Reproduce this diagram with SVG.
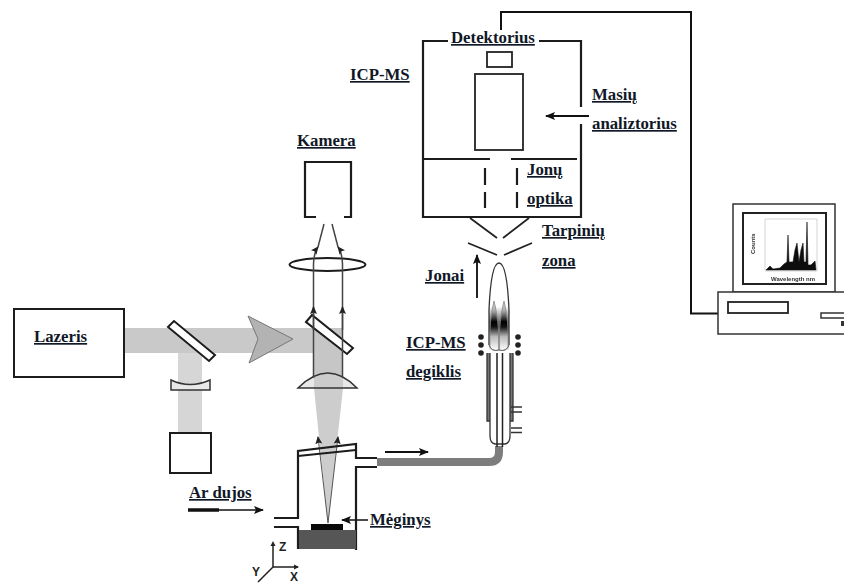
<svg xmlns="http://www.w3.org/2000/svg" width="844" height="583" viewBox="0 0 844 583">
<style>
text{font-family:"Liberation Serif","Times New Roman",serif;font-weight:bold;font-size:16.8px;fill:#101828}
.u{text-decoration:underline;text-decoration-thickness:2px;text-underline-offset:2.5px}
.l{fill:none;stroke:#1c1c1c;stroke-width:2.2}
.t{fill:none;stroke:#555;stroke-width:1}
.w{fill:#fff;stroke:#1c1c1c;stroke-width:2}
.r{fill:none;stroke:#444;stroke-width:1.5}
text.ax{font-family:"Liberation Sans",Arial,sans-serif;font-size:12px;fill:#222}
text.c{font-family:"Liberation Sans",Arial,sans-serif;font-size:6px;fill:#333}
</style>
<defs>
<marker id="a" markerWidth="10" markerHeight="8" refX="9" refY="4" orient="auto" markerUnits="userSpaceOnUse"><path d="M0 0L10 4L0 8L2 4z" fill="#111"/></marker>
<marker id="as" markerWidth="8" markerHeight="8" refX="7" refY="4" orient="auto" markerUnits="userSpaceOnUse"><path d="M0 0.5L8 4L0 7.5L1.5 4z" fill="#222"/></marker>
<linearGradient id="fl" x1="0" y1="0" x2="0" y2="1">
<stop offset="0" stop-color="#ddd"/><stop offset=".2" stop-color="#aaa"/><stop offset=".42" stop-color="#000"/><stop offset=".52" stop-color="#111"/><stop offset=".72" stop-color="#bbb"/><stop offset="1" stop-color="#fff"/>
</linearGradient>
<linearGradient id="fo" x1="0" y1="0" x2="0" y2="1">
<stop offset="0" stop-color="#fff"/><stop offset=".5" stop-color="#fff"/><stop offset=".68" stop-color="#666"/><stop offset=".76" stop-color="#333"/><stop offset=".9" stop-color="#bbb"/><stop offset="1" stop-color="#eee"/>
</linearGradient>
<filter id="b" x="-5%" y="-5%" width="110%" height="110%"><feGaussianBlur stdDeviation="0.35"/></filter>
</defs>

<g id="beams">
<rect x="124" y="328" width="190" height="25" fill="#c9c9c9"/>
<rect x="178" y="353" width="24" height="80" fill="#d6d6d6"/>
<rect x="314" y="328" width="29" height="60" fill="#c6c6c6"/>
<path d="M314 388H343L328 525z" fill="#cdcdcd"/>
</g>

<g id="lazeris"><rect x="14" y="309" width="110" height="68" class="w"/><text x="34" y="342" class="u">Lazeris</text></g>
<g id="veidrodis-1"><path d="M168 327L174 321L215 355L209 361z" class="w"/></g>
<g id="lesis-1"><path d="M171 380Q190 389 210 380V390H171z" fill="#e8e8e8" stroke="#333" stroke-width="1.500"/></g>
<g id="deze"><rect x="170" y="433" width="41" height="40" class="w"/></g>
<g id="prizme"><path d="M248 316L293 339L249 363L258 339z" fill="#b3b3b3" stroke="#777" stroke-width="1"/></g>
<g id="veidrodis-2"><path d="M306 322L312 315L353 348L347 354z" class="w"/></g>
<g id="lesis-2"><path d="M298 388Q328 358 357 388z" fill="#d2d2d2" fill-opacity=".5" stroke="#333" stroke-width="1.500"/></g>
<g id="lesis-3"><ellipse cx="327.500" cy="264.500" rx="38" ry="6.500" fill="none" stroke="#1c1c1c" stroke-width="2"/></g>
<g id="kamera"><path d="M316 217H305V162H351V217H344" class="l"/><text x="297" y="146" class="u">Kamera</text></g>

<g id="connectors">
<path d="M313.500 378V264Q314 252 318 247" class="r" marker-end="url(#as)"/>
<path d="M318 247L324 224" class="r"/>
<path d="M342.500 378V264Q342 252 338 247" class="r" marker-end="url(#as)"/>
<path d="M338 247L332 224" class="r"/>
<path d="M313.500 330V307" class="r" marker-end="url(#as)"/>
<path d="M342.500 330V307" class="r" marker-end="url(#as)"/>
<path d="M328 523L318 437" class="t" marker-end="url(#as)"/>
<path d="M328 523L338 437" class="t" marker-end="url(#as)"/>
<path d="M377 462H489Q499 462 499 452V446" fill="none" stroke="#7d7d7d" stroke-width="8"/>
<path d="M385 452H428" stroke="#111" stroke-width="2" marker-end="url(#a)"/>
<path d="M188 510H219" stroke="#111" stroke-width="3.500"/>
<path d="M219 510H263" stroke="#111" stroke-width="1.500" marker-end="url(#a)"/>
<path d="M368 520H342" stroke="#111" stroke-width="1.500" marker-end="url(#a)"/>
<path d="M477 298V255" stroke="#222" stroke-width="2" marker-end="url(#a)"/>
<path d="M589 116H546" stroke="#111" stroke-width="2" marker-end="url(#a)"/>
<path d="M501 30V12H691V313.500H718" fill="none" stroke="#111" stroke-width="2"/>
</g>

<g id="kamera-meginiui">
<path d="M274 518H298V451L356 444V458H377M377 467H356V550M274 527H298V549" class="l"/>
<path d="M298 456L356 450" class="l" stroke-width="1.500"/>
<rect x="299" y="530" width="57" height="19" fill="#565656"/>
<rect x="311" y="524" width="32" height="6" fill="#0a0a0a"/>
</g>
<g id="meginys"><text x="370" y="525" class="u">Mėginys</text></g>
<g id="ar-dujos"><text x="189" y="498" class="u">Ar dujos</text></g>

<g id="asys">
<path d="M273 567V544M273 567H298M273 567L258 582" stroke="#222" stroke-width="1.500" fill="none"/>
<path d="M273 541L275.500 546H270.500zM299 567L294 564.500V569.500z" fill="#222"/>
<text x="279" y="551" class="ax">Z</text><text x="290" y="581" class="ax">X</text><text x="252" y="576" class="ax">Y</text>
</g>

<g id="icp-ms">
<path d="M448 41H423V217H581V124M581 107V41H539" class="l"/>
<path d="M423 159H490M511 159H577" class="l" stroke-width="1.800"/>
<path d="M485 168V185M485 192V208M517 168V185M517 192V208" class="l"/>
<rect x="487" y="52" width="25" height="15" fill="none" stroke="#222" stroke-width="1.800"/>
<rect x="475" y="74" width="48" height="76" fill="none" stroke="#222" stroke-width="1.800"/>
<text x="350" y="80" class="u">ICP-MS</text>
<text x="451" y="43" class="u">Detektorius</text>
<text x="592" y="100" class="u">Masių</text>
<text x="592" y="129" class="u">analiztorius</text>
<text x="527" y="175" class="u">Jonų</text>
<text x="527" y="204" class="u">optika</text>
</g>

<g id="tarpine-zona">
<path d="M470 218L497 238M529 218L503 238M468 243L497 255M532 243L504 255" fill="none" stroke="#222" stroke-width="1.800"/>
<text x="542" y="236" class="u">Tarpinių</text>
<text x="542" y="266" class="u">zona</text>
<text x="425" y="281" class="u">Jonai</text>
</g>

<g id="degiklis">
<path d="M489 350V310Q491 263 499 263Q507 263 509 310V350z" fill="url(#fo)"/>
<path d="M489 345V310Q491 263 499 263Q507 263 509 310V345" fill="none" stroke="#333" stroke-width="1.300"/>
<path d="M490 347Q489 320 494 301Q497 312 498.500 330V350Q494 352 490 347z" fill="url(#fl)" stroke="#888" stroke-width=".8"/>
<path d="M499.500 350V330Q501 312 504 301Q509 320 508 347Q504 352 499.500 350z" fill="url(#fl)" stroke="#888" stroke-width=".8"/>
<path d="M489 345Q491 352 499 350Q507 352 509 345" fill="none" stroke="#666" stroke-width="1"/>
<path d="M487 353V421H490V353" fill="#777" stroke="#333" stroke-width="1.300"/>
<path d="M510 353V421H513V353" fill="#777" stroke="#333" stroke-width="1.300"/>
<path d="M490 421V436Q490 443 495 444H505Q510 443 510 436V421" fill="#fff" stroke="#333" stroke-width="1.300"/>
<path d="M497 353V447M502.500 353V447" fill="none" stroke="#222" stroke-width="1.500"/>
<path d="M511 407H522M511 412H522M511 428H522M511 432.500H522" stroke="#333" stroke-width="1.300"/>
<g fill="#222"><circle cx="481" cy="337" r="2.800"/><circle cx="481" cy="345" r="2.800"/><circle cx="481" cy="353" r="2.800"/><circle cx="518" cy="337" r="2.800"/><circle cx="518" cy="345" r="2.800"/><circle cx="518" cy="353" r="2.800"/></g>
<text x="406" y="348" class="u">ICP-MS</text>
<text x="406" y="377" class="u">degiklis</text>
</g>

<g id="kompiuteris">
<rect x="733" y="204" width="102" height="88" fill="#fff" stroke="#333" stroke-width="1.500"/>
<rect x="743" y="213" width="83" height="71" fill="#fff" stroke="#222" stroke-width="2"/>
<g filter="url(#b)">
<path d="M765 219V271H817M765 219H817V271" fill="none" stroke="#bbb" stroke-width=".6"/>
<path d="M766 270L770 266L773 269L780 268L784 264L787 262L788 235L789 262L793 262L795 250L797 243L799 262L801 250L803 243L804 262L806 262L807 222L808 265L811 265L815 261L816 270z" fill="#111" stroke="#111" stroke-width=".6"/>
<text x="0" y="0" class="c" transform="translate(755 254) rotate(-90)">Counts</text>
<text x="771" y="281" class="c">Wavelength  nm</text>
</g>
<rect x="718" y="292" width="130" height="42" fill="#fff" stroke="#333" stroke-width="1.500"/>
<rect x="728" y="302" width="60" height="11" fill="#fff" stroke="#222" stroke-width="1.800"/>
<rect x="821" y="313" width="26" height="5" fill="#fff" stroke="#333" stroke-width="1.500"/>
<rect x="841" y="321" width="3" height="5" fill="#333"/>
</g>
</svg>
